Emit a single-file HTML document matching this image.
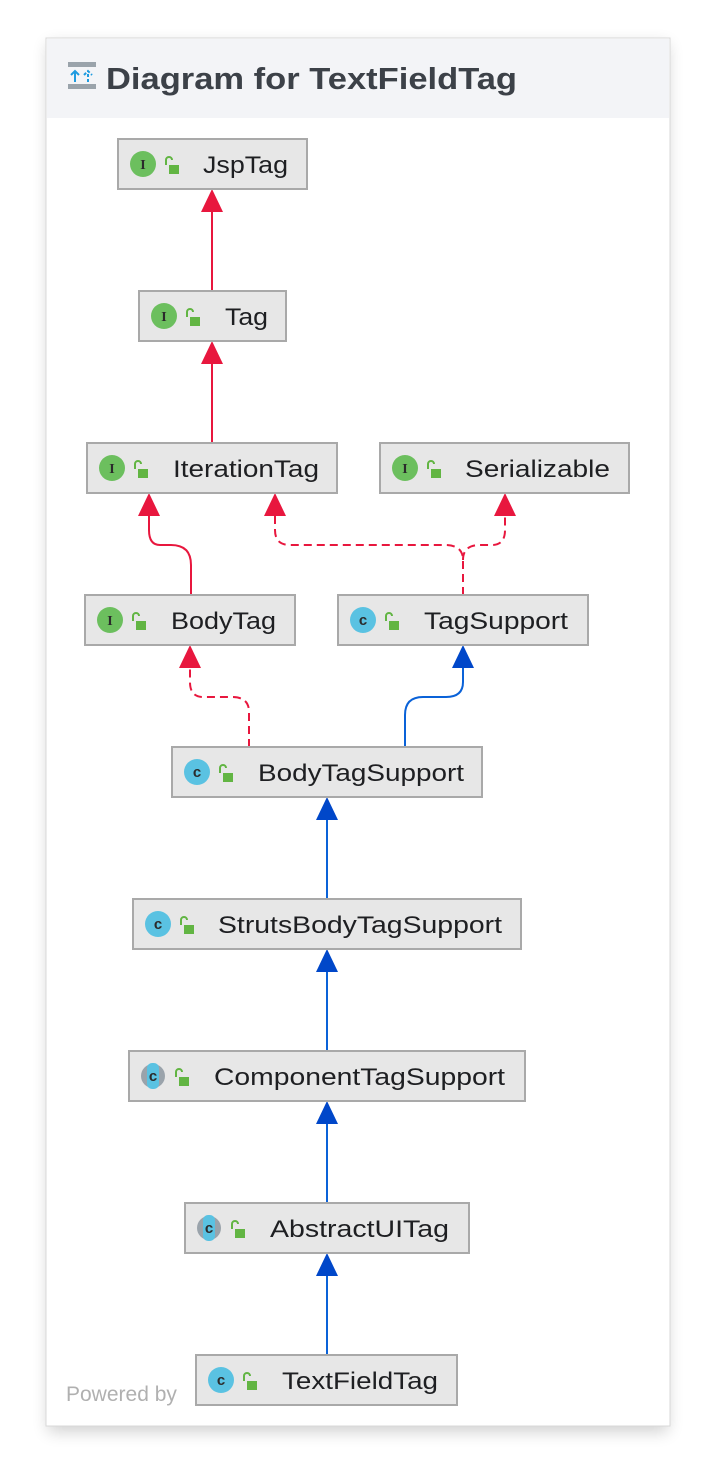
<!DOCTYPE html>
<html><head><meta charset="utf-8"><style>
html,body{margin:0;padding:0;background:#fff;}
svg{display:block;font-family:"Liberation Sans",sans-serif;}
</style></head><body>
<svg width="716" height="1480" viewBox="0 0 716 1480" xmlns="http://www.w3.org/2000/svg">
<defs>
<filter id="sh" x="-10%" y="-10%" width="120%" height="120%"><feGaussianBlur stdDeviation="8"/></filter>
<g id="lock"><path d="M-6,-3 v-5 a3,3 0 0 1 6,0" fill="none" stroke="#62b543" stroke-width="2"/><rect x="-3" y="-3" width="10" height="9" fill="#62b543"/></g>
</defs>
<rect x="48" y="44" width="620" height="1388" fill="#000" opacity="0.18" filter="url(#sh)"/>
<rect x="46" y="38" width="624" height="1388" fill="#fff" stroke="#d8d8d8"/>
<text x="66" y="1401" font-size="21" fill="#b0b0b0">Powered by</text>
<rect x="47" y="39" width="622" height="79" fill="#f3f4f7"/>
<!-- header icon -->
<rect x="68" y="62" width="28" height="5" fill="#9aa3ab"/>
<rect x="68" y="84" width="28" height="5" fill="#9aa3ab"/>
<path d="M75,82 v-11 M71,75 l4,-4 l4,4" stroke="#1e9be0" stroke-width="2" fill="none"/>
<path d="M88,82 v-11 M84,75 l4,-4 l4,4" stroke="#1e9be0" stroke-width="2" fill="none" stroke-dasharray="3,2"/>
<text x="106" y="89" font-size="31" font-weight="bold" fill="#3c4148" textLength="411" lengthAdjust="spacingAndGlyphs">Diagram for TextFieldTag</text>

<!-- connectors -->
<g fill="none" stroke-width="2">
<path d="M212,211 V291" stroke="#e8173e"/>
<path d="M212,363 V443" stroke="#e8173e"/>
<path d="M191,595 V565 Q191,545 171,545 H160 Q149,545 149,530 V515" stroke="#e8173e"/>
<path d="M463,595 V560 Q463,545 445,545 H290 Q275,545 275,530 V515 M463,560 Q463,545 480,545 H492 Q505,545 505,530 V515" stroke="#e8173e" stroke-dasharray="8,5"/>
<path d="M249,747 V712 Q249,697 232,697 H203 Q190,697 190,682 V667" stroke="#e8173e" stroke-dasharray="8,5"/>
<path d="M405,747 V715 Q405,697 423,697 H446 Q463,697 463,682 V667" stroke="#0a62d8"/>
<path d="M327,819 V899 M327,971 V1051 M327,1123 V1203 M327,1275 V1355" stroke="#0a62d8"/>
</g>
<g fill="#e8173e">
<polygon points="212,189 201,212 223,212"/>
<polygon points="212,341 201,364 223,364"/>
<polygon points="149,493 138,516 160,516"/>
<polygon points="275,493 264,516 286,516"/>
<polygon points="505,493 494,516 516,516"/>
<polygon points="190,645 179,668 201,668"/>
</g>
<g fill="#0047c9">
<polygon points="463,645 452,668 474,668"/>
<polygon points="327,797 316,820 338,820"/>
<polygon points="327,949 316,972 338,972"/>
<polygon points="327,1101 316,1124 338,1124"/>
<polygon points="327,1253 316,1276 338,1276"/>
</g>

<!-- nodes -->
<g font-size="24" fill="#1e1f22">
<g stroke="#a9a9a9" stroke-width="2" fill="#e7e7e7">
<rect x="118" y="139" width="189" height="50"/>
<rect x="139" y="291" width="147" height="50"/>
<rect x="87" y="443" width="250" height="50"/>
<rect x="380" y="443" width="249" height="50"/>
<rect x="85" y="595" width="210" height="50"/>
<rect x="338" y="595" width="250" height="50"/>
<rect x="172" y="747" width="310" height="50"/>
<rect x="133" y="899" width="388" height="50"/>
<rect x="129" y="1051" width="396" height="50"/>
<rect x="185" y="1203" width="284" height="50"/>
<rect x="196" y="1355" width="261" height="50"/>
</g>
<g fill="#6cbf5e">
<circle cx="143" cy="164" r="13"/><circle cx="164" cy="316" r="13"/>
<circle cx="112" cy="468" r="13"/><circle cx="405" cy="468" r="13"/>
<circle cx="110" cy="620" r="13"/>
</g>
<g font-size="14" font-weight="bold" font-family="Liberation Serif,serif" text-anchor="middle" fill="#2b2b2b">
<text x="143" y="169">I</text><text x="164" y="321">I</text><text x="112" y="473">I</text><text x="405" y="473">I</text><text x="110" y="625">I</text>
</g>
<g fill="#5ac2e2">
<circle cx="363" cy="620" r="13"/><circle cx="197" cy="772" r="13"/><circle cx="158" cy="924" r="13"/>
<circle cx="221" cy="1380" r="13"/>
</g>
<g fill="#9aa3ab"><circle cx="153" cy="1076" r="12"/><circle cx="209" cy="1228" r="12"/></g>
<g fill="#5ac2e2"><rect x="147" y="1063" width="12" height="26" rx="5"/><rect x="203" y="1215" width="12" height="26" rx="5"/></g>
<g font-size="15" font-weight="bold" text-anchor="middle" fill="#2b2b2b">
<text x="363" y="625">c</text><text x="197" y="777">c</text><text x="158" y="929">c</text><text x="153" y="1081">c</text><text x="209" y="1233">c</text><text x="221" y="1385">c</text>
</g>
<use href="#lock" x="172" y="168"/><use href="#lock" x="193" y="320"/><use href="#lock" x="141" y="472"/><use href="#lock" x="434" y="472"/>
<use href="#lock" x="139" y="624"/><use href="#lock" x="392" y="624"/><use href="#lock" x="226" y="776"/><use href="#lock" x="187" y="928"/>
<use href="#lock" x="182" y="1080"/><use href="#lock" x="238" y="1232"/><use href="#lock" x="250" y="1384"/>
<text x="203" y="173" textLength="85" lengthAdjust="spacingAndGlyphs">JspTag</text>
<text x="225" y="325" textLength="43" lengthAdjust="spacingAndGlyphs">Tag</text>
<text x="173" y="477" textLength="146" lengthAdjust="spacingAndGlyphs">IterationTag</text>
<text x="465" y="477" textLength="145" lengthAdjust="spacingAndGlyphs">Serializable</text>
<text x="171" y="629" textLength="105" lengthAdjust="spacingAndGlyphs">BodyTag</text>
<text x="424" y="629" textLength="144" lengthAdjust="spacingAndGlyphs">TagSupport</text>
<text x="258" y="781" textLength="206" lengthAdjust="spacingAndGlyphs">BodyTagSupport</text>
<text x="218" y="933" textLength="284" lengthAdjust="spacingAndGlyphs">StrutsBodyTagSupport</text>
<text x="214" y="1085" textLength="291" lengthAdjust="spacingAndGlyphs">ComponentTagSupport</text>
<text x="270" y="1237" textLength="179" lengthAdjust="spacingAndGlyphs">AbstractUITag</text>
<text x="282" y="1389" textLength="156" lengthAdjust="spacingAndGlyphs">TextFieldTag</text>
</g>
</svg>
</body></html>
